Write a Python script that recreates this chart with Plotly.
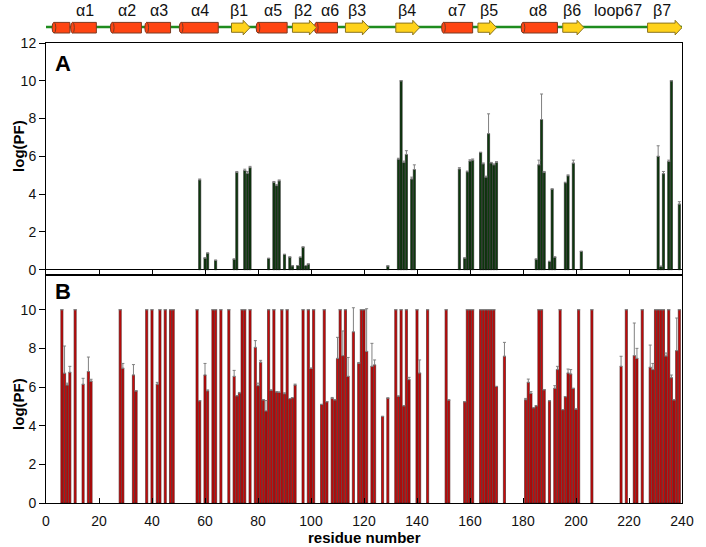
import plotly.graph_objects as go

# ---- panel A: native state (green) ----
res_a = [58, 60, 61, 64, 71, 72, 75, 76, 77, 84, 86, 87, 88, 90, 92, 93, 95, 96,
         97, 98, 99, 129, 133, 134, 135, 136, 138, 139, 156, 158, 159, 160, 161,
         164, 165, 166, 167, 168, 169, 170, 185, 186, 187, 188, 190, 191, 192,
         196, 197, 199, 202, 231, 232, 233, 235, 236, 239]
pf_a = [4.75, 0.62, 0.88, 0.5, 0.56, 5.15, 5.25, 5.1, 5.4, 0.6, 4.62, 4.45, 4.7,
        0.81, 0.67, 0.21, 0.22, 0.66, 1.2, 0.22, 0.3, 0.2, 5.85, 10.0, 5.68, 6.1,
        4.8, 5.3, 5.33, 0.62, 5.18, 5.75, 5.8, 6.2, 5.6, 4.9, 7.2, 5.65, 5.55,
        5.68, 0.56, 5.55, 7.95, 5.15, 0.44, 4.27, 0.67, 4.6, 4.97, 5.64, 0.97,
        6.0, 0.18, 5.08, 5.73, 10.0, 3.47]
errtop_a = [4.8, None, None, None, None, 5.2, 5.32, 5.2, 5.47, None, 4.67, 4.5,
            4.75, None, None, None, None, None, None, None, None, None, 5.9, None,
            5.75, 6.3, 4.9, 5.55, 5.4, None, 5.22, 5.82, 5.86, 6.22, 5.65, 4.95,
            8.25, 5.68, 5.6, 5.72, None, 5.8, 9.3, 5.2, None, None, None, 4.63,
            5.02, 5.8, None, 6.56, None, 5.2, 5.8, None, 3.6]

# ---- panel B: red ----
res_b = [6, 7, 8, 9, 11, 14, 16, 17, 28, 29, 33, 34, 38, 40, 42, 43, 45, 47, 48,
         57, 58, 60, 61, 63, 64, 66, 69, 71, 72, 73, 74, 75, 77, 79, 80, 81, 82,
         83, 84, 85, 86, 87, 88, 89, 90, 91, 92, 93, 94, 97, 99, 100, 101, 104,
         105, 106, 108, 109, 110, 111, 112, 113, 114, 116, 118, 119, 120, 121,
         123, 124, 127, 129, 132, 133, 134, 135, 136, 137, 140, 141, 144, 151,
         152, 158, 159, 160, 161, 164, 165, 166, 167, 168, 169, 170, 173, 181,
         182, 183, 184, 185, 186, 187, 188, 190, 192, 193, 194, 195, 196, 197,
         198, 199, 200, 201, 206, 217, 219, 222, 223, 225, 228, 229, 230, 231,
         232, 233, 234, 235, 236, 237, 238, 239]
pf_b = [10, 6.71, 6.1, 6.76, 10, 6.14, 6.8, 6.3, 10, 6.97, 6.62, 5.8, 10, 10,
        6.14, 10, 10, 10, 10, 10, 5.29, 6.62, 5.8, 10, 10, 10, 10, 6.55, 5.55,
        5.69, 10, 10, 10, 8.05, 6.07, 7.28, 5.34, 4.76, 10, 5.84, 10, 5.75, 5.72,
        10, 5.65, 10, 5.4, 5.45, 6.1, 10, 10, 6.97, 10, 5.1, 10, 5.24, 5.41,
        5.34, 7.48, 10, 7.62, 10, 6.55, 8.85, 7.22, 10, 10, 7.84, 7.07, 7.14,
        4.48, 5.43, 10, 5.53, 10, 5.03, 10, 6.38, 10, 6.72, 10, 10, 5.33, 5.24,
        10, 10, 10, 10, 10, 10, 10, 10, 10, 6.03, 7.59, 5.34, 6.24, 5.67, 4.93,
        5.03, 10, 10, 5.86, 5.29, 5.93, 6.9, 10, 4.83, 5.5, 6.72, 6.67, 5.93,
        4.86, 10, 10, 7.07, 10, 7.62, 7.48, 10, 7.02, 6.9, 10, 10, 10, 10, 7.6,
        10, 6.48, 5.34, 7.88, 10]
errtop_b = [None, 8.12, 6.2, 7.07, None, 6.45, 7.55, 6.4, None, 7.22, 7.16, None,
            None, None, 6.24, None, None, None, None, None, None, 7.22, 5.85, None,
            None, None, None, 6.86, None, 5.72, None, None, None, 8.4, 6.2, 7.38,
            None, 5.3, None, None, None, None, 5.75, None, 5.7, None, None, None,
            6.15, None, None, None, None, None, None, None, 5.46, None, 8.57, None,
            8.9, None, 7.53, 10.1, 7.27, None, None, 10.05, 8.26, 7.4, None, None,
            None, None, None, None, None, 6.5, None, 7.4, None, None, None, None,
            None, None, None, None, None, None, None, None, None, None, 8.31, 5.41,
            6.41, 5.76, None, None, None, None, None, None, 6.07, 7.07, None, None,
            None, 6.93, 6.9, None, None, None, None, 7.59, None, 9.31, 8.0, None,
            8.17, 7.22, None, None, None, None, 7.76, None, 6.62, None, 9.57, None]

# ---- secondary structure (residue ranges) ----
helix_start = [3, 10, 25, 38, 51, 80, 102, 150, 180]
helix_end = [9, 19, 36, 47, 65, 91, 110, 161, 193]
strand_start = [70, 93, 113, 132, 163, 195, 227]
strand_end = [77, 102, 122, 141, 170, 203, 240]
ss_labels = ["α1", "α2", "α3", "α4", "β1", "α5", "β2", "α6", "β3", "β4",
             "α7", "β5", "α8", "β6", "loop67", "β7"]
ss_label_pos = [14.6, 30.5, 42.5, 58.0, 72.7, 85.6, 96.9, 107.3, 117.3, 136.2,
                155.1, 167.0, 185.6, 198.6, 215.8, 232.5]

FONT = "Liberation Sans, Arial, sans-serif"
W, H = 706, 547
LEFT, RIGHT = 46.3, 694.3
TOP, BOT = 43.3, 503.3


def py(p):
    """pixel row -> paper y"""
    return (BOT - p) / (BOT - TOP)


def px(p):
    """pixel column -> paper x"""
    return (p - LEFT) / (RIGHT - LEFT)


def deltas(vals, tops):
    return [None if t is None else round(t - v, 3) for v, t in zip(vals, tops)]


fig = go.Figure()
fig.add_trace(go.Bar(
    x=res_a, y=pf_a, xaxis="x2", yaxis="y2", width=0.8,
    marker=dict(color="#0d3d0d", line=dict(color="#111111", width=0.6)),
    error_y=dict(type="data", symmetric=False, array=deltas(pf_a, errtop_a),
                 arrayminus=[0] * len(pf_a), color="#808080", thickness=1, width=1.5),
    showlegend=False,
))
fig.add_trace(go.Bar(
    x=res_b, y=pf_b, xaxis="x", yaxis="y", width=0.8,
    marker=dict(color="#cc0a0a", line=dict(color="#3a1010", width=0.6)),
    error_y=dict(type="data", symmetric=False, array=deltas(pf_b, errtop_b),
                 arrayminus=[0] * len(pf_b), color="#808080", thickness=1, width=1.5),
    showlegend=False,
))

shapes = []
# backbone line
shapes.append(dict(type="line", xref="x", yref="paper", x0=0, x1=240,
                   y0=py(27.3), y1=py(27.3), line=dict(color="#1e8c1e", width=2.5)))
# helices: cylinder body + left face
for s, e in zip(helix_start, helix_end):
    shapes.append(dict(type="rect", xref="x", yref="paper", x0=s, x1=e,
                       y0=py(33.3), y1=py(22.7), fillcolor="#ff4512",
                       line=dict(color="#7a3a22", width=1)))
    shapes.append(dict(type="circle", xref="x", yref="paper", x0=s - 0.7, x1=s + 0.7,
                       y0=py(33.3), y1=py(22.7), fillcolor="#ff4512",
                       line=dict(color="#7a3a22", width=1)))
# strands: arrows
for s, e in zip(strand_start, strand_end):
    h = e - 2.6
    yb0, yb1 = py(32.6), py(23.4)
    yh0, yh1 = py(35.2), py(20.6)
    ym = py(27.9)
    path = (f"M {s},{yb0} L {h},{yb0} L {h},{yh0} L {e},{ym} "
            f"L {h},{yh1} L {h},{yb1} L {s},{yb1} Z")
    shapes.append(dict(type="path", xref="x", yref="paper", path=path,
                       fillcolor="#ffd21a", line=dict(color="#8a7420", width=1)))

annotations = []
for lab, xp in zip(ss_labels, ss_label_pos):
    annotations.append(dict(text=lab, x=xp, xref="x", y=py(10.5), yref="paper",
                            showarrow=False, xanchor="center", yanchor="middle",
                            font=dict(family=FONT, size=16, color="#111111")))
annotations += [
    dict(text="<b>A</b>", x=px(53), y=py(63.5), xref="paper", yref="paper",
         showarrow=False, xanchor="left", yanchor="middle",
         font=dict(family=FONT, size=22, color="black")),
    dict(text="<b>B</b>", x=px(53), y=py(291.5), xref="paper", yref="paper",
         showarrow=False, xanchor="left", yanchor="middle",
         font=dict(family=FONT, size=22, color="black")),
    dict(text="<b>log(PF)</b>", x=px(18), y=py(146), xref="paper",
         yref="paper", showarrow=False, textangle=-90, xanchor="center",
         yanchor="middle", font=dict(family=FONT, size=15, color="black")),
    dict(text="<b>log(PF)</b>", x=px(18), y=py(404), xref="paper",
         yref="paper", showarrow=False, textangle=-90, xanchor="center",
         yanchor="middle", font=dict(family=FONT, size=15, color="black")),
    dict(text="<b>residue number</b>", x=0.5, y=py(538), xref="paper",
         yref="paper", showarrow=False, xanchor="center", yanchor="middle",
         font=dict(family=FONT, size=15, color="black")),
]

split = py(275)
axis_common = dict(showline=True, linecolor="black", linewidth=1, mirror=True,
                   showgrid=False, zeroline=False,
                   tickfont=dict(family=FONT, size=14, color="#111111"),
                   tickcolor="black")

fig.update_layout(
    width=W, height=H,
    margin=dict(l=LEFT, r=W - RIGHT, t=TOP, b=H - BOT),
    paper_bgcolor="white", plot_bgcolor="white",
    barmode="overlay",
    shapes=shapes, annotations=annotations,
    xaxis=dict(domain=[0, 1], range=[0, 240], anchor="y", tickmode="linear",
               tick0=0, dtick=20, ticks="inside", ticklen=5,
               ticklabelstandoff=5, **axis_common),
    yaxis=dict(domain=[0, split], range=[0, 11.81], tickvals=[0, 2, 4, 6, 8, 10],
               ticks="outside", ticklen=6, anchor="x", **axis_common),
    xaxis2=dict(domain=[0, 1], range=[0, 240], anchor="y2", matches="x",
                tickmode="linear", tick0=0, dtick=20, ticks="inside", ticklen=5,
                showticklabels=False, **axis_common),
    yaxis2=dict(domain=[split, 1], range=[-0.265, 12],
                tickvals=[0, 2, 4, 6, 8, 10, 12], ticks="outside", ticklen=6,
                anchor="x2", **{**axis_common, "zeroline": True,
                                "zerolinecolor": "black", "zerolinewidth": 1}),
)

# drop the browser's default 8px body margin so the figure fills the window
fig.write_html("out.html",
               config={"displayModeBar": False},
               post_script="document.body.style.margin='0px';"
                           "document.body.style.overflow='hidden';")
